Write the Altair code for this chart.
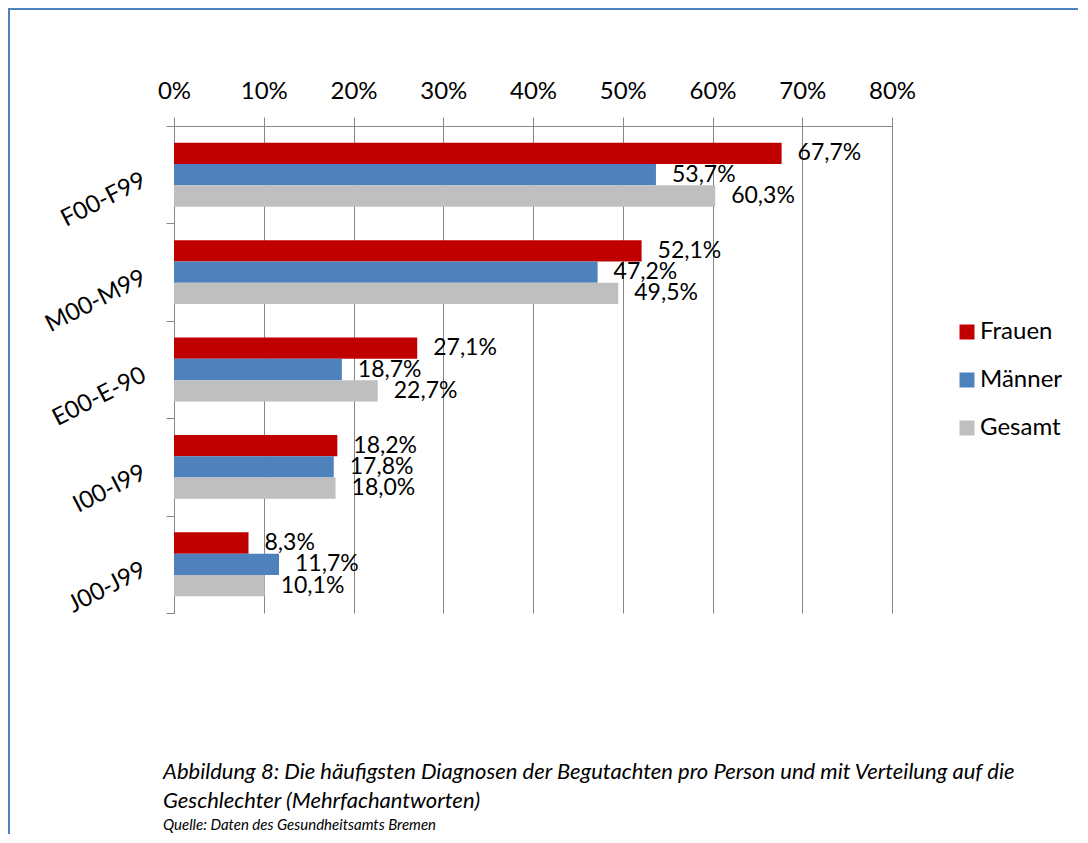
import altair as alt
import pandas as pd

categories = ["F00-F99", "M00-M99", "E00-E-90", "I00-I99", "J00-J99"]
series = ["Frauen", "Männer", "Gesamt"]
frauen = [67.7, 52.1, 27.1, 18.2, 8.3]
maenner = [53.7, 47.2, 18.7, 17.8, 11.7]
gesamt = [60.3, 49.5, 22.7, 18.0, 10.1]
colors = ["#C00000", "#4F81BD", "#BFBFBF"]
x_ticks = [0, 10, 20, 30, 40, 50, 60, 70, 80]
caption_1 = "Abbildung 8: Die häufigsten Diagnosen der Begutachten pro Person und mit Verteilung auf die"
caption_2 = "Geschlechter (Mehrfachantworten)"
source = "Quelle: Daten des Gesundheitsamts Bremen"

rows = []
for s, vals in zip(series, [frauen, maenner, gesamt]):
    for c, v in zip(categories, vals):
        rows.append({"cat": c, "series": s, "value": v,
                     "label": f"{v:.1f}".replace(".", ",") + "%"})
df = pd.DataFrame(rows)

FONT = "Lato"
GRID = "#868686"

W, H = 718, 487
PL, PT = 166, 118
TOTAL_W, TOTAL_H = 1070, 826

y_enc = alt.Y("cat:N", sort=categories,
              scale=alt.Scale(paddingInner=0, paddingOuter=0),
              axis=alt.Axis(title=None, tickBand="extent", grid=False,
                            labelAngle=333, labelAlign="right", labelBaseline="middle",
                            labelOffset=4, labelPadding=22, tickSize=8,
                            labelFontSize=24, labelFont=FONT, labelColor="black",
                            domainColor=GRID, tickColor=GRID))
yoff_enc = alt.YOffset("series:N", sort=series,
                       scale=alt.Scale(paddingInner=0, paddingOuter=0.785))
x_enc = alt.X("value:Q", scale=alt.Scale(domain=[0, 80], nice=False),
              axis=alt.Axis(title=None, orient="top", values=x_ticks,
                            labelExpr="datum.value + '%'", grid=True, labelFlush=False,
                            gridColor=GRID, tickColor=GRID, domainColor=GRID,
                            tickSize=9, labelFontSize=24, labelFont=FONT,
                            labelColor="black", labelPadding=14))

base = alt.Chart(df)
bars = base.mark_bar().encode(
    x=x_enc, y=y_enc, yOffset=yoff_enc,
    color=alt.Color("series:N", sort=series,
                    scale=alt.Scale(domain=series, range=colors),
                    legend=alt.Legend(title=None, orient="none", legendX=781, legendY=194,
                                      symbolType="square", symbolSize=225,
                                      symbolStrokeWidth=0, labelFontSize=24,
                                      labelFont=FONT, labelColor="black",
                                      labelOffset=1, rowPadding=24)),
)
labels = base.mark_text(align="left", baseline="middle", dx=16, fontSize=23,
                        font=FONT, color="black").encode(
    x="value:Q", y=alt.Y("cat:N", sort=categories), yOffset=alt.YOffset("series:N", sort=series),
    text="label:N")

one = pd.DataFrame({"a": [0]})
border_left = alt.Chart(one).mark_rule(color="#4F81BD", strokeWidth=2).encode(
    x=alt.value(-165), y=alt.value(-PT), y2=alt.value(TOTAL_H - PT))
border_top = alt.Chart(one).mark_rule(color="#4F81BD", strokeWidth=2).encode(
    x=alt.value(-PL), x2=alt.value(TOTAL_W - PL), y=alt.value(-117))

cap1 = alt.Chart(pd.DataFrame({"t": [caption_1]})).mark_text(
    align="left", baseline="middle", fontSize=22, font=FONT, fontStyle="italic",
    color="black").encode(x=alt.value(-11), y=alt.value(646), text="t:N")
cap2 = alt.Chart(pd.DataFrame({"t": [caption_2]})).mark_text(
    align="left", baseline="middle", fontSize=22, font=FONT, fontStyle="italic",
    color="black").encode(x=alt.value(-11), y=alt.value(675), text="t:N")
src = alt.Chart(pd.DataFrame({"t": [source]})).mark_text(
    align="left", baseline="middle", fontSize=15, font=FONT, fontStyle="italic",
    color="black").encode(x=alt.value(-11), y=alt.value(699), text="t:N")

chart = alt.layer(bars, labels, border_left, border_top, cap1, cap2, src).properties(
    width=W, height=H,
    padding={"left": PL, "top": PT, "right": TOTAL_W - PL - W, "bottom": TOTAL_H - PT - H},
    autosize=alt.AutoSizeParams(type="none"),
    background="white",
).configure_view(stroke=None)

chart.save("out.html", embed_options={"renderer": "svg", "actions": False})
